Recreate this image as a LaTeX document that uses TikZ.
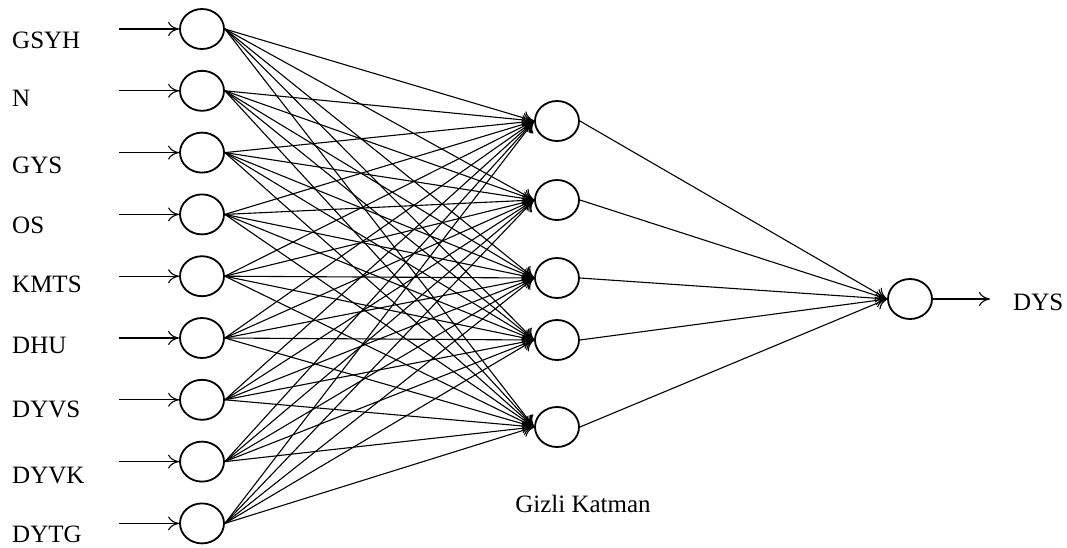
\documentclass[tikz,border=0pt]{standalone}
\usepackage{fontspec}
\setmainfont{Liberation Serif}
\usetikzlibrary{shapes.geometric,arrows.meta,positioning}

\begin{document}
\begin{tikzpicture}[
        x=1pt, y=1pt,
        node distance=20pt,
        neuron/.style={
                ellipse,
                draw,
                line width=1.8pt,
                minimum width=44pt,
                minimum height=40pt,
                inner sep=0pt
            },
        arrow/.style={
                -{To[length=11pt,width=14pt]},
                line width=1.1pt
            },
        varname/.style={
                anchor=base west,
                inner sep=0pt,
                font=\fontsize{25}{25}\selectfont
            }
    ]
    \useasboundingbox (0,0) rectangle (1067,-547);

    % Girdi katmani
    \node[neuron] at (202,-29) (in1) {};
    \node[neuron, below=of in1] (in2) {};
    \node[neuron, below=of in2] (in3) {};
    \node[neuron, below=of in3] (in4) {};
    \node[neuron, below=of in4] (in5) {};
    \node[neuron, below=of in5] (in6) {};
    \node[neuron, below=of in6] (in7) {};
    \node[neuron, below=of in7] (in8) {};
    \node[neuron, below=of in8] (in9) {};

    % Girdi isimleri
    \node[varname] at (12,-48) (lab1) {GSYH};
    \node[varname] at (12,-106) (lab2) {N};
    \node[varname] at (12,-173) (lab3) {GYS};
    \node[varname] at (12,-233) (lab4) {OS};
    \node[varname] at (12,-292) (lab5) {KMTS};
    \node[varname] at (12,-353) (lab6) {DHU};
    \node[varname] at (12,-417) (lab7) {DYVS};
    \node[varname] at (12,-483) (lab8) {DYVK};
    \node[varname] at (12,-542) (lab9) {DYTG};

    % Gizli katman
    \node[neuron] at (557,-121) (hid1) {};
    \node[neuron] at (557,-200) (hid2) {};
    \node[neuron] at (557,-278) (hid3) {};
    \node[neuron] at (557,-340) (hid4) {};
    \node[neuron] at (557,-427) (hid5) {};
    \node[varname, anchor=base] at (583,-512) (hidlab) {Gizli Katman};

    % Cikti katmani
    \node[neuron] at (910,-299) (out) {};
    \node[varname] at (1013,-310) (dys) {DYS};

    % Girdi oklari
    \foreach \i in {1,...,9} {
        \coordinate[left=60pt of in\i.west] (s\i);
        \draw[arrow] (s\i) -- (in\i.west);
    }

    % Girdi -> gizli
    \foreach \i in {1,...,9}
        \foreach \j in {1,...,5}
            \draw[arrow] (in\i.east) -- (hid\j.west);

    % Gizli -> cikti
    \foreach \j in {1,...,5}
        \draw[arrow] (hid\j.east) -- (out.west);
    \draw[arrow] (out.east) -- ([xshift=-23pt]dys.west |- out.east);

\end{tikzpicture}
\end{document}
